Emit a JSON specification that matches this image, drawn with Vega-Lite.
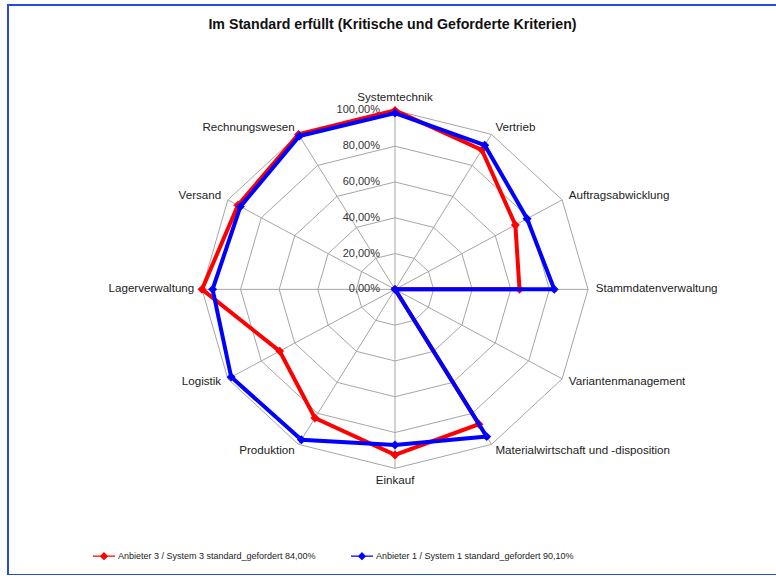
{
  "$schema": "https://vega.github.io/schema/vega-lite/v6.json",
  "width": 769,
  "height": 570,
  "autosize": {"type": "none"},
  "padding": {"left": 8, "top": 5, "right": 0, "bottom": 0},
  "background": "white",
  "title": {"text": "Im Standard erfüllt (Kritische  und Geforderte  Kriterien)", "font": "Liberation Sans", "fontSize": 14.2, "fontWeight": "bold", "color": "#111111", "anchor": "middle", "frame": "group", "offset": -27},
  "config": {"view": {"stroke": "#2a4bd7", "strokeWidth": 2}},
  "datasets": {
    "cats": [
      {"k": 0, "cat": "Systemtechnik"},
      {"k": 1, "cat": "Vertrieb"},
      {"k": 2, "cat": "Auftragsabwicklung"},
      {"k": 3, "cat": "Stammdatenverwaltung"},
      {"k": 4, "cat": "Variantenmanagement"},
      {"k": 5, "cat": "Materialwirtschaft und -disposition"},
      {"k": 6, "cat": "Einkauf"},
      {"k": 7, "cat": "Produktion"},
      {"k": 8, "cat": "Logistik"},
      {"k": 9, "cat": "Lagerverwaltung"},
      {"k": 10, "cat": "Versand"},
      {"k": 11, "cat": "Rechnungswesen"}
    ],
    "rings": [
      {"level": 0.2, "k": [0,1,2,3,4,5,6,7,8,9,10,11]},
      {"level": 0.4, "k": [0,1,2,3,4,5,6,7,8,9,10,11]},
      {"level": 0.6, "k": [0,1,2,3,4,5,6,7,8,9,10,11]},
      {"level": 0.8, "k": [0,1,2,3,4,5,6,7,8,9,10,11]},
      {"level": 1.0, "k": [0,1,2,3,4,5,6,7,8,9,10,11]}
    ],
    "ticks": [
      {"level": 0, "label": "0,00%"},
      {"level": 0.2, "label": "20,00%"},
      {"level": 0.4, "label": "40,00%"},
      {"level": 0.6, "label": "60,00%"},
      {"level": 0.8, "label": "80,00%"},
      {"level": 1.0, "label": "100,00%"}
    ],
    "vals": [
      {"series": "Anbieter 3 / System 3 standard_gefordert 84,00%", "k": 0, "value": 1.0},
      {"series": "Anbieter 3 / System 3 standard_gefordert 84,00%", "k": 1, "value": 0.9},
      {"series": "Anbieter 3 / System 3 standard_gefordert 84,00%", "k": 2, "value": 0.72},
      {"series": "Anbieter 3 / System 3 standard_gefordert 84,00%", "k": 3, "value": 0.645},
      {"series": "Anbieter 3 / System 3 standard_gefordert 84,00%", "k": 4, "value": 0},
      {"series": "Anbieter 3 / System 3 standard_gefordert 84,00%", "k": 5, "value": 0.87},
      {"series": "Anbieter 3 / System 3 standard_gefordert 84,00%", "k": 6, "value": 0.925},
      {"series": "Anbieter 3 / System 3 standard_gefordert 84,00%", "k": 7, "value": 0.83},
      {"series": "Anbieter 3 / System 3 standard_gefordert 84,00%", "k": 8, "value": 0.69},
      {"series": "Anbieter 3 / System 3 standard_gefordert 84,00%", "k": 9, "value": 1.0},
      {"series": "Anbieter 3 / System 3 standard_gefordert 84,00%", "k": 10, "value": 0.94},
      {"series": "Anbieter 3 / System 3 standard_gefordert 84,00%", "k": 11, "value": 1.0},
      {"series": "Anbieter 1 / System 1 standard_gefordert 90,10%", "k": 0, "value": 0.985},
      {"series": "Anbieter 1 / System 1 standard_gefordert 90,10%", "k": 1, "value": 0.93},
      {"series": "Anbieter 1 / System 1 standard_gefordert 90,10%", "k": 2, "value": 0.79},
      {"series": "Anbieter 1 / System 1 standard_gefordert 90,10%", "k": 3, "value": 0.825},
      {"series": "Anbieter 1 / System 1 standard_gefordert 90,10%", "k": 4, "value": 0},
      {"series": "Anbieter 1 / System 1 standard_gefordert 90,10%", "k": 5, "value": 0.95},
      {"series": "Anbieter 1 / System 1 standard_gefordert 90,10%", "k": 6, "value": 0.87},
      {"series": "Anbieter 1 / System 1 standard_gefordert 90,10%", "k": 7, "value": 0.97},
      {"series": "Anbieter 1 / System 1 standard_gefordert 90,10%", "k": 8, "value": 0.98},
      {"series": "Anbieter 1 / System 1 standard_gefordert 90,10%", "k": 9, "value": 0.945},
      {"series": "Anbieter 1 / System 1 standard_gefordert 90,10%", "k": 10, "value": 0.925},
      {"series": "Anbieter 1 / System 1 standard_gefordert 90,10%", "k": 11, "value": 0.99}
    ]
  },
  "encoding": {
    "x": {"field": "x", "type": "quantitative", "scale": {"domain": [-2.005, 1.979], "nice": false, "zero": false}, "axis": null},
    "y": {"field": "y", "type": "quantitative", "scale": {"domain": [-1.596, 1.589], "nice": false, "zero": false}, "axis": null}
  },
  "layer": [
    {
      "data": {"name": "rings"},
      "transform": [
        {"flatten": ["k"]},
        {"calculate": "datum.level*sin(datum.k*PI/6)", "as": "x"},
        {"calculate": "datum.level*cos(datum.k*PI/6)", "as": "y"}
      ],
      "mark": {"type": "line", "interpolate": "linear-closed", "color": "#a6a6a6", "strokeWidth": 1},
      "encoding": {"detail": {"field": "level", "type": "nominal"}, "order": {"field": "k", "type": "quantitative"}}
    },
    {
      "data": {"name": "cats"},
      "transform": [
        {"calculate": "0", "as": "x"},
        {"calculate": "0", "as": "y"},
        {"calculate": "sin(datum.k*PI/6)", "as": "x2"},
        {"calculate": "cos(datum.k*PI/6)", "as": "y2"}
      ],
      "mark": {"type": "rule", "color": "#a6a6a6", "strokeWidth": 1},
      "encoding": {"x2": {"field": "x2"}, "y2": {"field": "y2"}}
    },
    {
      "data": {"name": "ticks"},
      "transform": [
        {"calculate": "0", "as": "x"},
        {"calculate": "datum.level", "as": "y"}
      ],
      "mark": {"type": "text", "align": "right", "baseline": "middle", "dx": -15, "font": "Liberation Sans", "fontSize": 11, "color": "#333333"},
      "encoding": {"text": {"field": "label"}}
    },
    {
      "data": {"name": "cats"},
      "transform": [
        {"filter": "datum.k === 0"},
        {"calculate": "1.04*sin(datum.k*PI/6)", "as": "x"},
        {"calculate": "1.04*cos(datum.k*PI/6)", "as": "y"}
      ],
      "mark": {"type": "text", "align": "center", "baseline": "bottom", "font": "Liberation Sans", "fontSize": 11.6, "color": "#222222"},
      "encoding": {"text": {"field": "cat"}}
    },
    {
      "data": {"name": "cats"},
      "transform": [
        {"filter": "datum.k === 6"},
        {"calculate": "1.04*sin(datum.k*PI/6)", "as": "x"},
        {"calculate": "1.04*cos(datum.k*PI/6)", "as": "y"}
      ],
      "mark": {"type": "text", "align": "center", "baseline": "top", "font": "Liberation Sans", "fontSize": 11.6, "color": "#222222"},
      "encoding": {"text": {"field": "cat"}}
    },
    {
      "data": {"name": "cats"},
      "transform": [
        {"filter": "datum.k >= 1 && datum.k <= 5"},
        {"calculate": "1.04*sin(datum.k*PI/6)", "as": "x"},
        {"calculate": "1.04*cos(datum.k*PI/6)", "as": "y"}
      ],
      "mark": {"type": "text", "align": "left", "baseline": "middle", "font": "Liberation Sans", "fontSize": 11.6, "color": "#222222"},
      "encoding": {"text": {"field": "cat"}}
    },
    {
      "data": {"name": "cats"},
      "transform": [
        {"filter": "datum.k >= 7"},
        {"calculate": "1.04*sin(datum.k*PI/6)", "as": "x"},
        {"calculate": "1.04*cos(datum.k*PI/6)", "as": "y"}
      ],
      "mark": {"type": "text", "align": "right", "baseline": "middle", "font": "Liberation Sans", "fontSize": 11.6, "color": "#222222"},
      "encoding": {"text": {"field": "cat"}}
    },
    {
      "data": {"name": "vals"},
      "transform": [
        {"filter": "indexof(datum.series, 'Anbieter 3') === 0"},
        {"calculate": "datum.value*sin(datum.k*PI/6)", "as": "x"},
        {"calculate": "datum.value*cos(datum.k*PI/6)", "as": "y"}
      ],
      "mark": {"type": "line", "interpolate": "linear-closed", "strokeWidth": 4, "point": {"shape": "diamond", "filled": true, "size": 80}},
      "encoding": {
        "order": {"field": "k", "type": "quantitative"},
        "color": {
          "field": "series", "type": "nominal",
          "scale": {"domain": ["Anbieter 3 / System 3 standard_gefordert 84,00%", "Anbieter 1 / System 1 standard_gefordert 90,10%"], "range": ["#ff0000", "#0000ff"]},
          "legend": {
            "title": null, "orient": "none", "legendX": 84, "legendY": 539, "direction": "horizontal",
            "symbolType": "M-1,0L1,0M0,-0.3L0.3,0L0,0.3L-0.3,0Z", "symbolSize": 484, "symbolStrokeWidth": 1.2,
            "labelFont": "Liberation Sans", "labelFontSize": 9, "labelColor": "#222222", "labelOffset": 2, "labelLimit": 0, "columnPadding": 32,
            "encode": {"symbols": {"update": {"fill": {"scale": "color", "field": "value"}}}}
          }
        }
      }
    },
    {
      "data": {"name": "vals"},
      "transform": [
        {"filter": "indexof(datum.series, 'Anbieter 1') === 0"},
        {"calculate": "datum.value*sin(datum.k*PI/6)", "as": "x"},
        {"calculate": "datum.value*cos(datum.k*PI/6)", "as": "y"}
      ],
      "mark": {"type": "line", "interpolate": "linear-closed", "strokeWidth": 4, "point": {"shape": "diamond", "filled": true, "size": 80}},
      "encoding": {
        "order": {"field": "k", "type": "quantitative"},
        "color": {"field": "series", "type": "nominal"}
      }
    }
  ]
}
